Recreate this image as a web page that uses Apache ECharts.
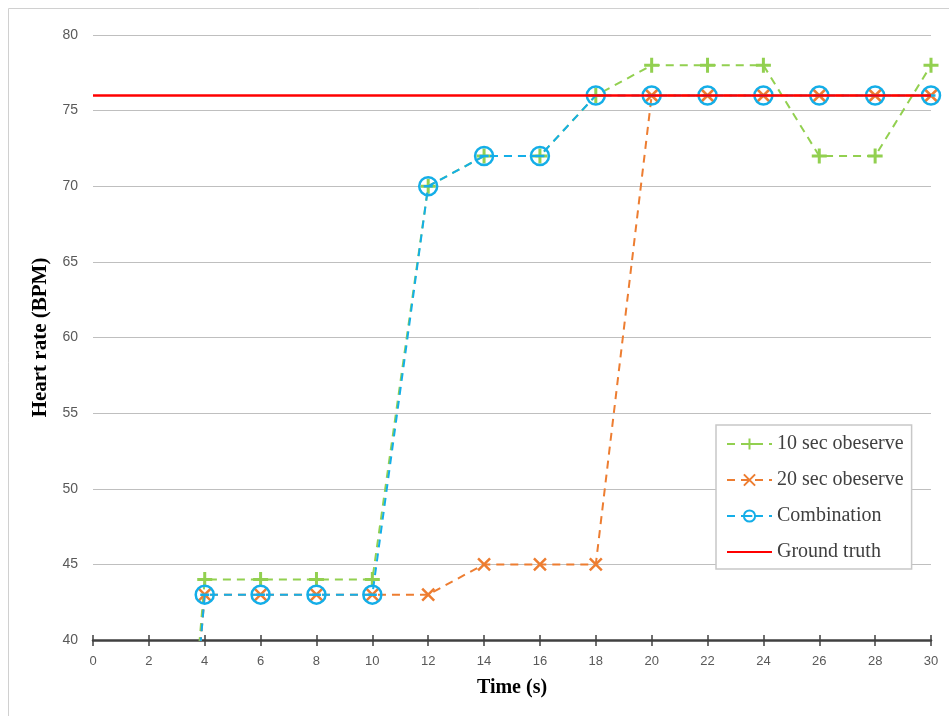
<!DOCTYPE html>
<html>
<head>
<meta charset="utf-8">
<script src="https://cdn.jsdelivr.net/npm/echarts@6/dist/echarts.min.js"></script>
<style>
  html, body { margin: 0; padding: 0; background: #ffffff; }
  #chart { width: 949px; height: 716px; }
</style>
</head>
<body>
<div id="chart"></div>
<script>
// Observation times (s)
const times = [2, 4, 6, 8, 10, 12, 14, 16, 18, 20, 22, 24, 26, 28, 30];
// Heart-rate estimates (BPM) for each method
const obs10 = [0, 44, 44, 44, 44, 70, 72, 72, 76, 78, 78, 78, 72, 72, 78];
const obs20 = [0, 43, 43, 43, 43, 43, 45, 45, 45, 76, 76, 76, 76, 76, 76];
const combo = [0, 43, 43, 43, 43, 70, 72, 72, 76, 76, 76, 76, 76, 76, 76];
// Reference heart rate
const truthTimes = [0, 30];
const truthValue = 76;
const seriesNames = ['10 sec obeserve', '20 sec obeserve', 'Combination', 'Ground truth'];

const labelFont = '"Liberation Sans", Arial, sans-serif';
const serif = '"Liberation Serif", "DejaVu Serif", serif';

const PLUS = 'path://M0,-10 L0,10 M-10,0 L10,0';
const CROSS = 'path://M-10,-10 L10,10 M-10,10 L10,-10';
const CIRCLE_MINUS = 'path://M-10,0 A10,10 0 1,0 10,0 A10,10 0 1,0 -10,0 Z M-5,0 L5,0';

function toPoints(vals) {
  // the first sample sits below the visible range; it only shapes the entering segment
  return times.map((t, i) => i === 0 ? { value: [t, vals[i]], symbol: 'none' } : [t, vals[i]]);
}

const chart = echarts.init(document.getElementById('chart'), null, { renderer: 'canvas' });

const dashed = { type: [8, 6], width: 2 };

chart.setOption({
  animation: false,
  backgroundColor: '#ffffff',
  graphic: [{
    type: 'rect',
    shape: { x: 8.5, y: 8.5, width: 980, height: 760 },
    style: { fill: 'none', stroke: '#d0d0d0', lineWidth: 1 },
    silent: true, z: -10
  }],
  grid: { left: 93, right: 18, top: 35, bottom: 76 },
  legend: {
    orient: 'vertical',
    left: 716, top: 425,
    data: [
      seriesNames[0],
      seriesNames[1],
      seriesNames[2],
      { name: seriesNames[3], itemStyle: { opacity: 0 } }
    ],
    backgroundColor: '#ffffff',
    borderColor: '#c8c8c8', borderWidth: 1.5,
    padding: [8, 8, 6, 10],
    itemWidth: 45, itemHeight: 14,
    itemGap: 14,
    textStyle: { fontFamily: serif, fontSize: 20, color: '#404040', lineHeight: 22 }
  },
  xAxis: [{
    type: 'value', min: 0, max: 30, interval: 2,
    name: 'Time (s)', nameLocation: 'middle', nameGap: 38,
    nameTextStyle: { fontFamily: serif, fontWeight: 'bold', fontSize: 20, color: '#000000' },
    axisLine: { show: true, lineStyle: { color: '#404040', width: 2.5 } },
    axisTick: { show: true, length: 6, lineStyle: { color: '#404040', width: 1.5 } },
    axisLabel: { fontFamily: labelFont, fontSize: 13, color: '#595959', margin: 15 },
    splitLine: { show: false }
  }, {
    type: 'value', min: 0, max: 30, interval: 2, position: 'bottom',
    axisLine: { show: false },
    axisTick: { show: true, inside: true, length: 5, lineStyle: { color: '#404040', width: 1.5 } },
    axisLabel: { show: false },
    splitLine: { show: false }
  }],
  yAxis: {
    type: 'value', min: 40, max: 80, interval: 5,
    name: 'Heart rate (BPM)', nameLocation: 'middle', nameGap: 37, nameRotate: 90,
    nameTextStyle: { fontFamily: serif, fontWeight: 'bold', fontSize: 21, color: '#000000' },
    axisLine: { show: false },
    axisTick: { show: false },
    axisLabel: { fontFamily: labelFont, fontSize: 14, color: '#595959', margin: 15 },
    splitLine: { lineStyle: { color: '#bfbfbf', width: 1.2 } }
  },
  series: [{
    name: seriesNames[0], type: 'line', data: toPoints(obs10),
    lineStyle: Object.assign({ color: '#92d050' }, dashed),
    symbol: PLUS, symbolSize: 15,
    itemStyle: { color: 'none', borderColor: '#92d050', borderWidth: 3 },
    z: 2
  }, {
    name: seriesNames[1], type: 'line', data: toPoints(obs20),
    lineStyle: Object.assign({ color: '#ed7d31' }, dashed),
    symbol: CROSS, symbolSize: 12,
    itemStyle: { color: 'none', borderColor: '#ed7d31', borderWidth: 2.5 },
    z: 3
  }, {
    name: seriesNames[2], type: 'line', data: toPoints(combo),
    lineStyle: Object.assign({ color: '#14aee8' }, dashed),
    symbol: CIRCLE_MINUS, symbolSize: 18,
    itemStyle: { color: 'none', borderColor: '#14aee8', borderWidth: 2.5 },
    z: 4
  }, {
    name: seriesNames[3], type: 'line',
    data: truthTimes.map(t => [t, truthValue]),
    lineStyle: { color: '#ff0000', width: 2.5 },
    itemStyle: { color: '#ff0000' },
    symbol: 'none', z: 5
  }]
});
</script>
</body>
</html>
